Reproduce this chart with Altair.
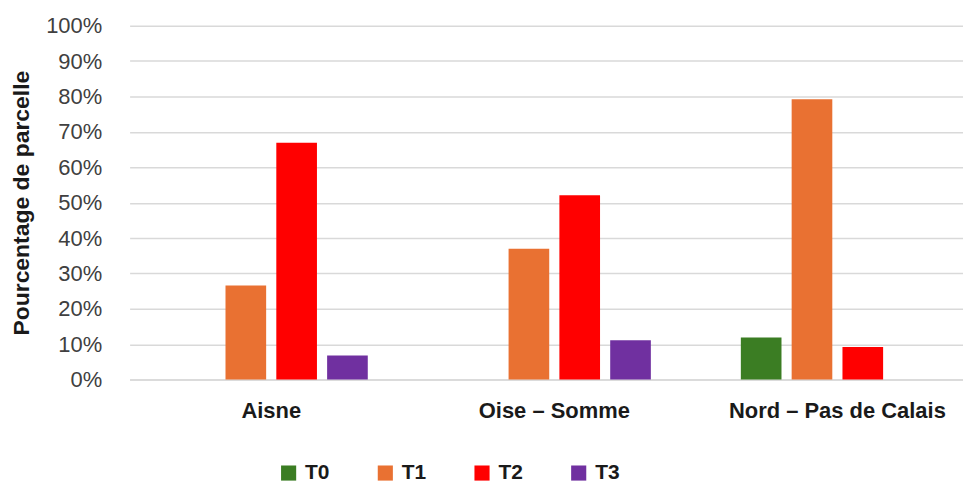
import altair as alt
import pandas as pd

regions = ["Aisne", "Oise – Somme", "Nord – Pas de Calais"]
series = ["T0", "T1", "T2", "T3"]
colors = ["#3b7d23", "#e97132", "#ff0000", "#7030a0"]
t0 = [0.0, 0.0, 0.119]
t1 = [0.266, 0.370, 0.792]
t2 = [0.669, 0.521, 0.092]
t3 = [0.068, 0.111, 0.0]

rows = []
for name, vals in zip(series, [t0, t1, t2, t3]):
    for r, v in zip(regions, vals):
        rows.append({"Région": r, "Traitement": name, "Valeur": v})
df = pd.DataFrame(rows)

chart = alt.Chart(df).mark_bar().encode(
    x=alt.X("Région:N", sort=regions, title=None,
            scale=alt.Scale(paddingInner=0.282, paddingOuter=0.113, align=0.625),
            axis=alt.Axis(labelAngle=0, labelFont="Liberation Sans", labelFontWeight="bold",
                          labelFontSize=22, labelColor="#1a1a1a", labelPadding=21,
                          labelLimit=0, ticks=False, domainColor="#d9d9d9", domainWidth=1.5,
                          grid=False, labelOverlap=False)),
    xOffset=alt.XOffset("Traitement:N", sort=series,
                        scale=alt.Scale(paddingInner=0.2, paddingOuter=0.1)),
    y=alt.Y("Valeur:Q", title="Pourcentage de parcelle",
            scale=alt.Scale(domain=[0, 1]),
            axis=alt.Axis(format=".0%", values=[i / 10 for i in range(11)],
                          labelFont="Liberation Sans", labelFontSize=22, labelColor="#404040",
                          labelPadding=28, ticks=False, domain=False, labelOverlap=False,
                          gridColor="#d9d9d9", gridWidth=1.5,
                          titleFont="Liberation Sans", titleFontWeight="bold",
                          titleFontSize=23, titleColor="#1a1a1a", titlePadding=12)),
    color=alt.Color("Traitement:N", sort=series,
                    scale=alt.Scale(domain=series, range=colors),
                    legend=alt.Legend(title=None, orient="none", direction="horizontal",
                                      legendX=149, legendY=438, columns=4,
                                      symbolType="square", symbolSize=230,
                                      symbolStrokeWidth=0, labelFont="Liberation Sans",
                                      labelFontWeight="bold", labelFontSize=21,
                                      labelColor="#1a1a1a", labelOffset=6,
                                      columnPadding=45)),
).properties(
    width=836, height=355,
    padding={"left": 122, "top": 17, "right": 0, "bottom": 110},
    autosize=alt.AutoSizeParams(type="none"),
).configure_view(stroke=None)

chart.save("out.html", embed_options={"renderer": "svg", "actions": False})
